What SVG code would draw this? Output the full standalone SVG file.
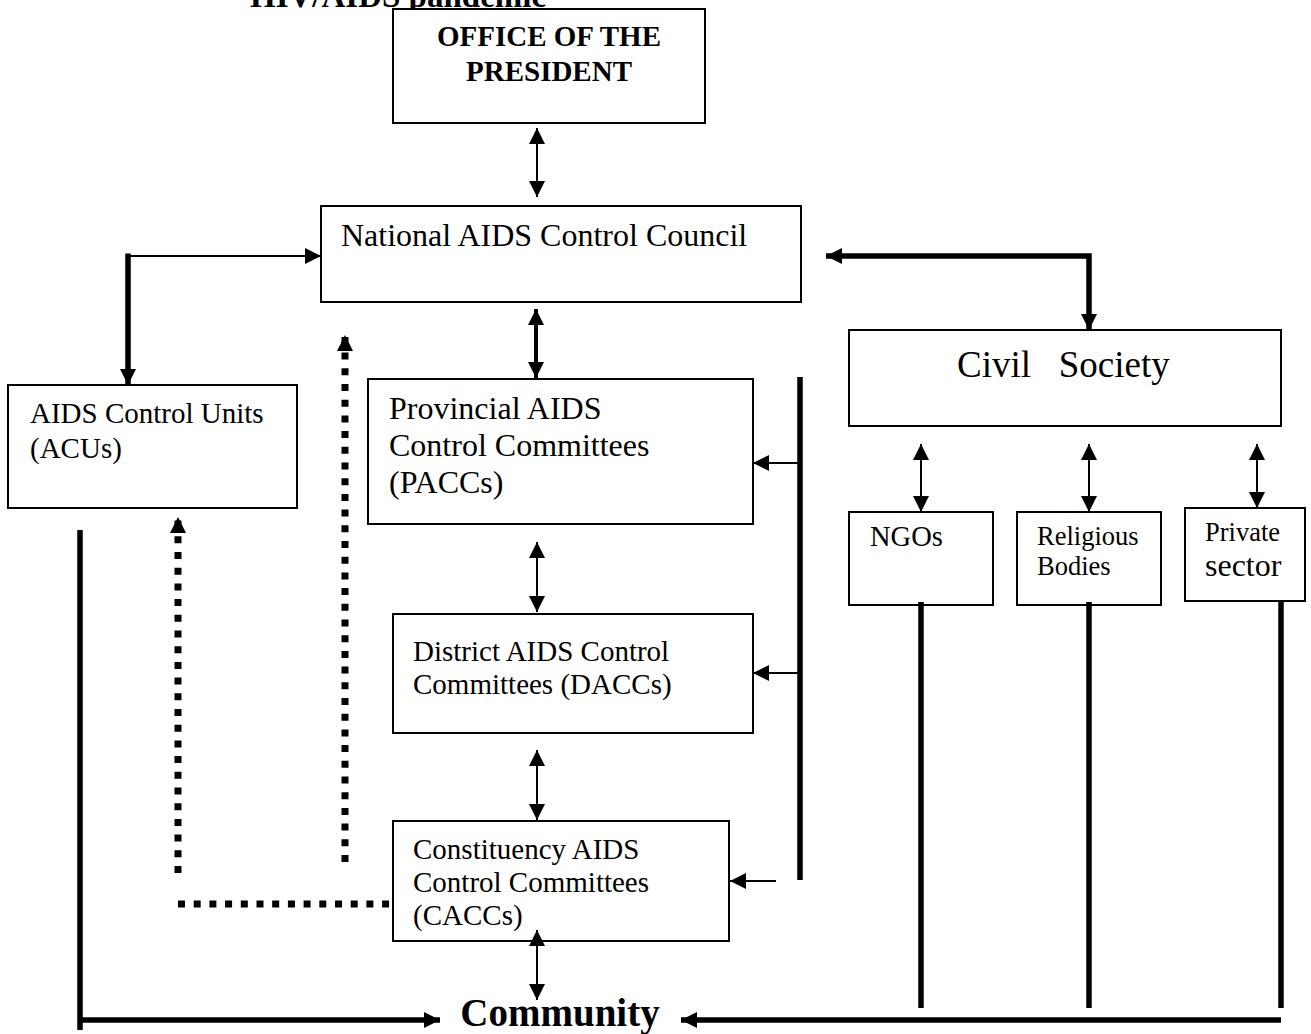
<svg xmlns="http://www.w3.org/2000/svg" width="1311" height="1034" viewBox="0 0 1311 1034">
<style>
.box{fill:#fff;stroke:#000;stroke-width:2}
.t{font-family:"Liberation Serif","Times New Roman",serif;fill:#000}
.b{font-weight:bold}
.thin{stroke:#000;stroke-width:2;fill:none}
.mid{stroke:#000;stroke-width:4;fill:none}
.thick{stroke:#000;stroke-width:5.5;fill:none}
.dot{stroke:#000;stroke-width:7;fill:none;stroke-dasharray:7 8.7}
</style>
<defs>
<marker id="ah" markerUnits="userSpaceOnUse" viewBox="0 0 16 16" refX="16" refY="8" markerWidth="16" markerHeight="16" orient="auto-start-reverse">
<path d="M0,0 L16,8 L0,16 z" fill="#000"/>
</marker>
</defs>
<text class="t b" x="250" y="7" font-size="33">HIV/AIDS pandemic</text>

<g id="office">
<rect class="box" x="393" y="9" width="312" height="114"/>
<text class="t b" x="549" y="46" font-size="29" text-anchor="middle">OFFICE OF THE</text>
<text class="t b" x="549" y="81" font-size="29" text-anchor="middle">PRESIDENT</text>
</g>
<g id="nacc">
<rect class="box" x="321" y="206" width="480" height="96"/>
<text class="t" x="341" y="246" font-size="32">National AIDS Control Council</text>
</g>
<g id="acu">
<rect class="box" x="8" y="385" width="289" height="123"/>
<text class="t" x="30" y="423" font-size="29">AIDS Control Units</text>
<text class="t" x="30" y="458" font-size="29">(ACUs)</text>
</g>
<g id="pacc">
<rect class="box" x="368" y="379" width="385" height="145"/>
<text class="t" x="389" y="419" font-size="32">Provincial AIDS</text>
<text class="t" x="389" y="456" font-size="32">Control Committees</text>
<text class="t" x="389" y="493" font-size="32">(PACCs)</text>
</g>
<g id="dacc">
<rect class="box" x="393" y="614" width="360" height="119"/>
<text class="t" x="413" y="661" font-size="29">District AIDS Control</text>
<text class="t" x="413" y="694" font-size="29">Committees (DACCs)</text>
</g>
<g id="cacc">
<rect class="box" x="393" y="821" width="336" height="120"/>
<text class="t" x="413" y="859" font-size="29">Constituency AIDS</text>
<text class="t" x="413" y="892" font-size="29">Control Committees</text>
<text class="t" x="413" y="925" font-size="29">(CACCs)</text>
</g>
<g id="community">
<text class="t b" x="560" y="1026" font-size="39" text-anchor="middle">Community</text>
</g>
<g id="civil">
<rect class="box" x="849" y="330" width="432" height="96"/>
<text class="t" x="957" y="377" font-size="37" xml:space="preserve">Civil   Society</text>
</g>
<g id="ngos">
<rect class="box" x="849" y="512" width="144" height="93"/>
<text class="t" x="870" y="546" font-size="28.5">NGOs</text>
</g>
<g id="religious">
<rect class="box" x="1017" y="512" width="144" height="93"/>
<text class="t" x="1037" y="545" font-size="26.5">Religious</text>
<text class="t" x="1037" y="575" font-size="26.5">Bodies</text>
</g>
<g id="private">
<rect class="box" x="1185" y="508" width="120" height="93"/>
<text class="t" x="1205" y="541" font-size="26.5">Private</text>
<text class="t" x="1205" y="576" font-size="32">sector</text>
</g>

<g id="connectors">
<line class="thin" x1="537" y1="128" x2="537" y2="197" marker-start="url(#ah)" marker-end="url(#ah)"/>
<line class="mid" x1="536" y1="309" x2="536" y2="378" marker-start="url(#ah)" marker-end="url(#ah)"/>
<line class="thin" x1="537" y1="542" x2="537" y2="612" marker-start="url(#ah)" marker-end="url(#ah)"/>
<line class="thin" x1="537" y1="750" x2="537" y2="820" marker-start="url(#ah)" marker-end="url(#ah)"/>
<line class="thin" x1="537" y1="930" x2="537" y2="1000" marker-start="url(#ah)" marker-end="url(#ah)"/>
<line class="thin" x1="128" y1="256" x2="321" y2="256" marker-end="url(#ah)"/>
<line class="thick" x1="128" y1="253.5" x2="128" y2="385" marker-end="url(#ah)"/>
<path class="thick" d="M826,256 L1089,256 L1089,330" marker-start="url(#ah)" marker-end="url(#ah)"/>
<line class="thick" x1="800" y1="377" x2="800" y2="880"/>
<line class="thin" x1="800" y1="463" x2="753" y2="463" marker-end="url(#ah)"/>
<line class="thin" x1="800" y1="673" x2="753" y2="673" marker-end="url(#ah)"/>
<line class="thin" x1="776" y1="881" x2="730" y2="881" marker-end="url(#ah)"/>
<line class="thin" x1="921" y1="444" x2="921" y2="512" marker-start="url(#ah)" marker-end="url(#ah)"/>
<line class="thin" x1="1089" y1="444" x2="1089" y2="512" marker-start="url(#ah)" marker-end="url(#ah)"/>
<line class="thin" x1="1257" y1="444" x2="1257" y2="508" marker-start="url(#ah)" marker-end="url(#ah)"/>
<line class="thick" x1="921" y1="602" x2="921" y2="1008"/>
<line class="thick" x1="1089" y1="602" x2="1089" y2="1008"/>
<line class="thick" x1="1281" y1="601" x2="1281" y2="1008"/>
<line class="thick" x1="1281" y1="1020" x2="681" y2="1020" marker-end="url(#ah)"/>
<line class="thick" x1="80" y1="530" x2="80" y2="1030"/>
<line class="thick" x1="80" y1="1020" x2="440" y2="1020" marker-end="url(#ah)"/>
<line class="dot" x1="178" y1="873" x2="178" y2="517" marker-end="url(#ah)"/>
<line class="dot" x1="178" y1="904" x2="392" y2="904"/>
<line class="dot" x1="345" y1="862" x2="345" y2="335" marker-end="url(#ah)"/>
</g>
</svg>
